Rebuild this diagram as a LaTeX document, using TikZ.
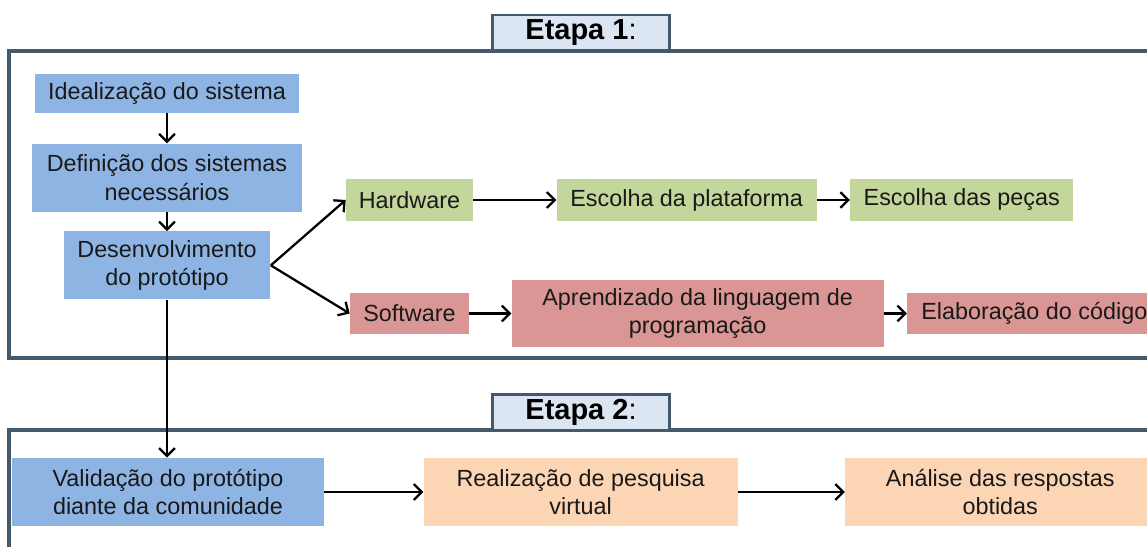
\documentclass[tikz,border=0pt]{standalone}
\usepackage{fontspec}
\setmainfont{Liberation Sans}
\usetikzlibrary{arrows.meta,positioning}
\definecolor{azul}{HTML}{8EB4E3}
\definecolor{verde}{HTML}{C3D69B}
\definecolor{rosa}{HTML}{D99694}
\definecolor{pessego}{HTML}{FCD5B5}
\definecolor{moldura}{HTML}{44596B}
\definecolor{rotulo}{HTML}{DCE6F2}

\begin{document}
\begin{tikzpicture}[
      x=0.02cm, y=-0.02cm,
      box/.style={inner sep=0pt, align=center, text=black!90,
                  font=\fontsize{13.3}{16}\selectfont},
      azulbox/.style={box, fill=azul},
      verdebox/.style={box, fill=verde, minimum height=0.84cm},
      rosabox/.style={box, fill=rosa},
      pessegobox/.style={box, fill=pessego, minimum height=1.38cm},
      etapa/.style={draw=moldura, line width=1.7pt, fill=rotulo, minimum width=3.56cm,
                    minimum height=0.72cm, inner sep=0pt, font=\fontsize{16.5}{18}\selectfont},
      frame/.style={draw=moldura, line width=1.8pt},
      arr/.style={-{Straight Barb[length=4.5pt,width=9pt,line width=1.3pt]}, line width=1.3pt}
    ]
      \useasboundingbox (0,0) rectangle (1147,547);
      \clip (0,0) rectangle (1147,547);

      % molduras das etapas
      \draw[frame] (9,51) rectangle (1190,358);
      \draw[frame] (9,430) rectangle (1190,600);
      \node[etapa] (et1) at (581,33) {{\bfseries Etapa 1}:};
      \node[etapa] (et2) at (581,412.5) {{\bfseries Etapa 2}:};

      % etapa 1
      \node[azulbox, minimum width=5.28cm, minimum height=0.78cm] (ideal) at (167,93.5) {Idealização do sistema};
      \node[azulbox, minimum width=5.42cm, minimum height=1.36cm, below=0.6cm of ideal] (defin) {Definição dos sistemas\\necessários};
      \node[azulbox, minimum width=4.14cm, minimum height=1.36cm, below=0.38cm of defin] (desenv) {Desenvolvimento\\do protótipo};

      \node[verdebox, minimum width=2.54cm] (hard) at (409.5,200) {Hardware};
      \node[verdebox, minimum width=5.2cm, right=1.66cm of hard] (plat) {Escolha da plataforma};
      \node[verdebox, minimum width=4.46cm, right=0.66cm of plat] (pecas) {Escolha das peças};

      \node[rosabox, minimum width=2.38cm, minimum height=0.82cm] (soft) at (409.5,313.5) {Software};
      \node[rosabox, minimum width=7.44cm, minimum height=1.36cm, right=0.84cm of soft] (aprend) {Aprendizado da linguagem de\\programação};
      \node[rosabox, minimum width=5.08cm, minimum height=0.82cm, right=0.46cm of aprend] (elab) {Elaboração do código};

      % etapa 2
      \node[azulbox, minimum width=6.24cm, minimum height=1.36cm] (valid) at (168,492) {Validação do protótipo\\diante da comunidade};
      \node[pessegobox, minimum width=6.28cm, right=1.98cm of valid] (realiz) {Realização de pesquisa\\virtual};
      \node[pessegobox, minimum width=6.2cm, right=2.14cm of realiz] (anal) {Análise das respostas\\obtidas};

      % ligações
      \draw[arr] (ideal) -- (ideal |- defin.north);
      \draw[arr] (defin.south -| ideal) -- (ideal |- desenv.north);
      \draw[arr] (desenv.east) -- (hard.west);
      \draw[arr] (desenv.east) -- (soft.west);
      \draw[arr] (hard) -- (plat);
      \draw[arr] (plat) -- (pecas);
      \draw[arr] (soft) -- (aprend);
      \draw[arr] (aprend) -- (elab);
      \draw[arr] (desenv.south) -- (desenv.south |- valid.north);
      \draw[arr] (valid) -- (realiz);
      \draw[arr] (realiz) -- (anal);
    \end{tikzpicture}
\end{document}
